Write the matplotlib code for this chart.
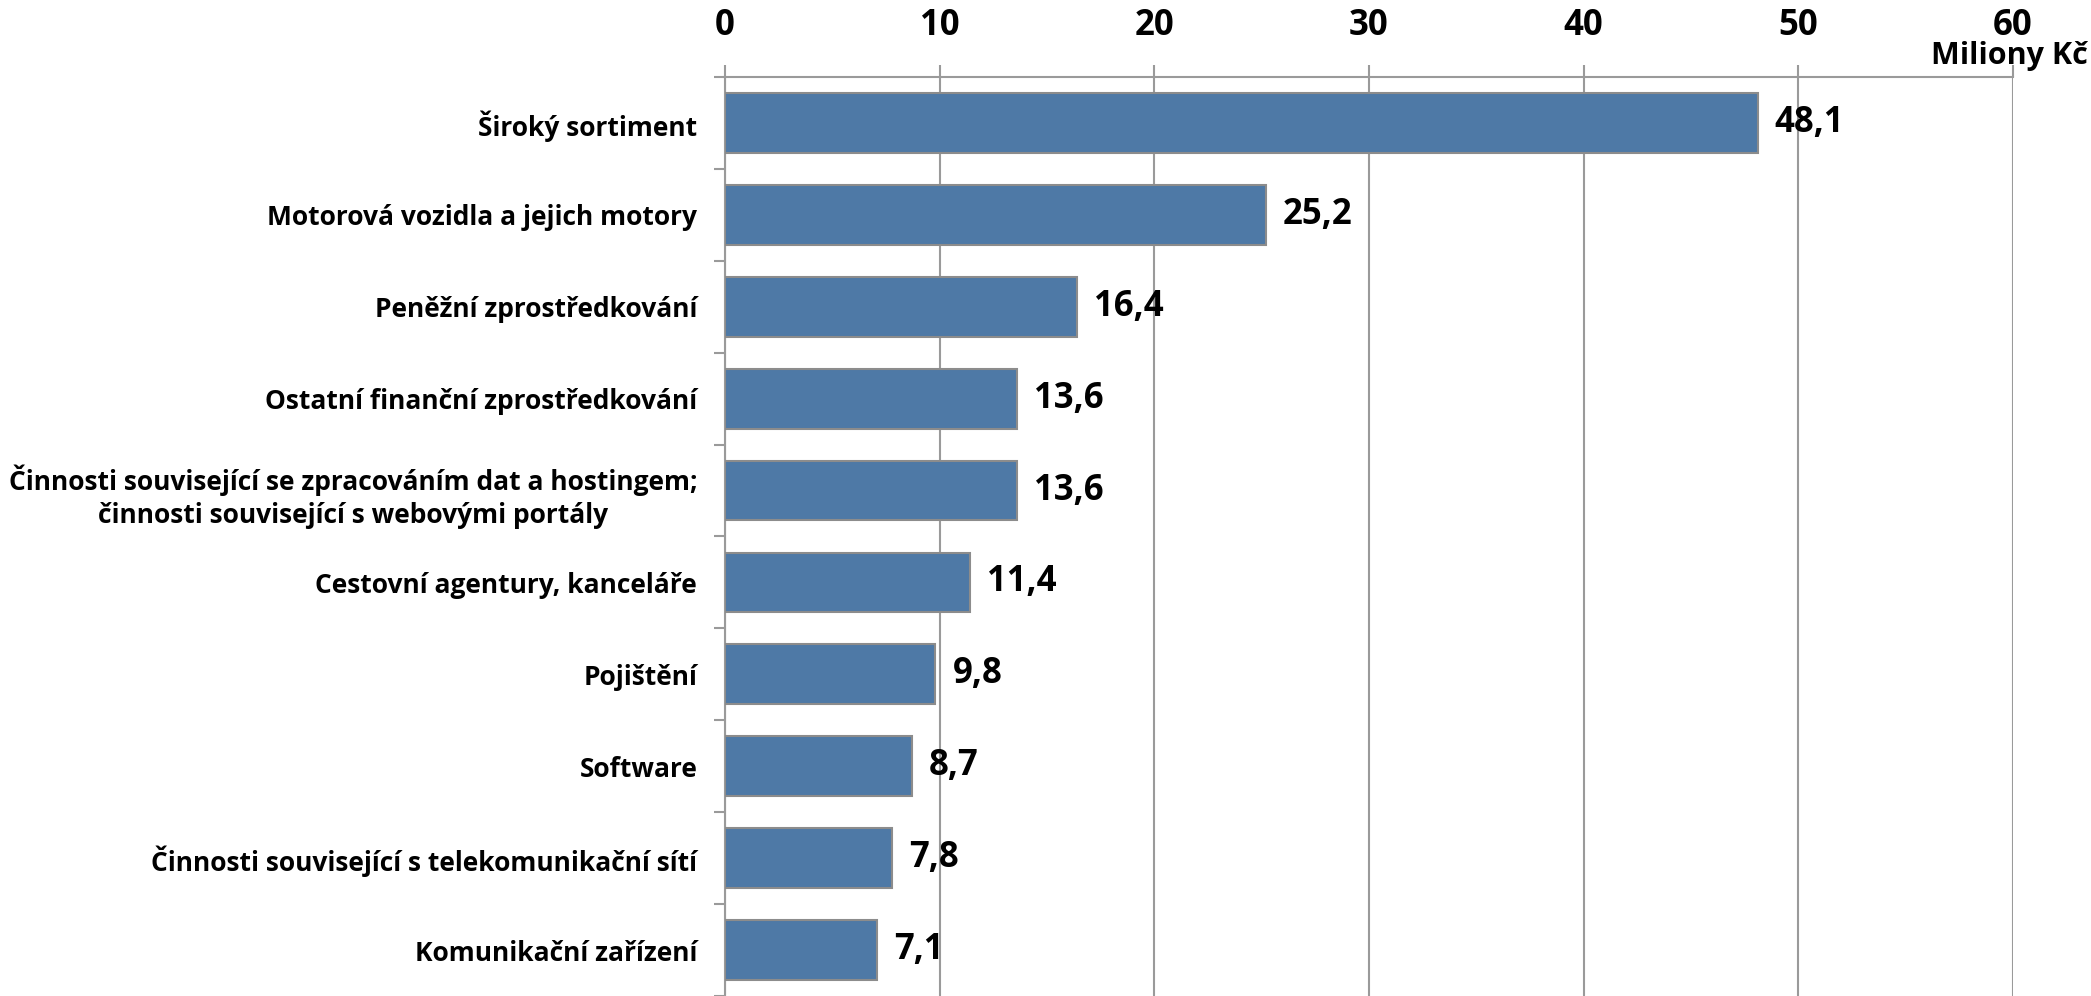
import matplotlib
matplotlib.use('Agg')
import matplotlib.pyplot as plt
import numpy as np

categories = [
    'Široký sortiment',
    'Motorová vozidla a jejich motory',
    'Peněžní zprostředkování',
    'Ostatní finanční zprostředkování',
    'Činnosti související se zpracováním dat a hostingem;\nčinnosti související s webovými portály',
    'Cestovní agentury, kanceláře',
    'Pojištění',
    'Software',
    'Činnosti související s telekomunikační sítí',
    'Komunikační zařízení',
]
values = [48.1, 25.2, 16.4, 13.6, 13.6, 11.4, 9.8, 8.7, 7.8, 7.1]
xticks = [0, 10, 20, 30, 40, 50, 60]

plt.rcParams['font.family'] = ['Open Sans', 'DejaVu Sans']
plt.rcParams['font.weight'] = 'bold'

grid_col = '#9a9a9a'
bar_col = '#4e79a6'

fig = plt.figure(figsize=(20.91, 9.96), dpi=100)
ax = fig.add_axes([725 / 2091, 0.0, (2013 - 725) / 2091, 1 - 77 / 996])

y = np.arange(len(categories))
ax.barh(y, values, height=0.65, color=bar_col, edgecolor='#8c8c8c', linewidth=1.5, zorder=3)

for yi, v in zip(y, values):
    ax.text(v + 0.8, yi, f'{v:.1f}'.replace('.', ','), va='center', ha='left',
            fontsize=25, fontweight='bold', zorder=4)

ax.set_xlim(0, 60)
ax.set_ylim(len(categories) - 0.5, -0.5)

ax.xaxis.tick_top()
ax.set_xticks(xticks)
ax.set_xticklabels([str(t) for t in xticks], fontsize=25, fontweight='bold')
ax.tick_params(axis='x', length=9, width=1.5, color=grid_col, pad=15)
ax.grid(axis='x', color=grid_col, linewidth=1.5, zorder=0)

# category boundaries as minor ticks on y
ax.set_yticks(y)
ax.set_yticklabels(categories, fontsize=19, fontweight='bold', ha='right',
                   multialignment='center', linespacing=1.3)
ax.set_yticks(np.arange(len(categories) + 1) - 0.5, minor=True)
ax.tick_params(axis='y', which='major', length=0, pad=20)
ax.tick_params(axis='y', which='minor', length=8, width=1.5, color=grid_col)

for s in ['right', 'bottom']:
    ax.spines[s].set_visible(False)
for s in ['top', 'left']:
    ax.spines[s].set_color(grid_col)
    ax.spines[s].set_linewidth(1.5)

fig.text(2088 / 2091, 1 - 56 / 996, 'Miliony Kč', ha='right', va='center', fontsize=22, fontweight='bold')

fig.savefig('out.png', dpi=100)
